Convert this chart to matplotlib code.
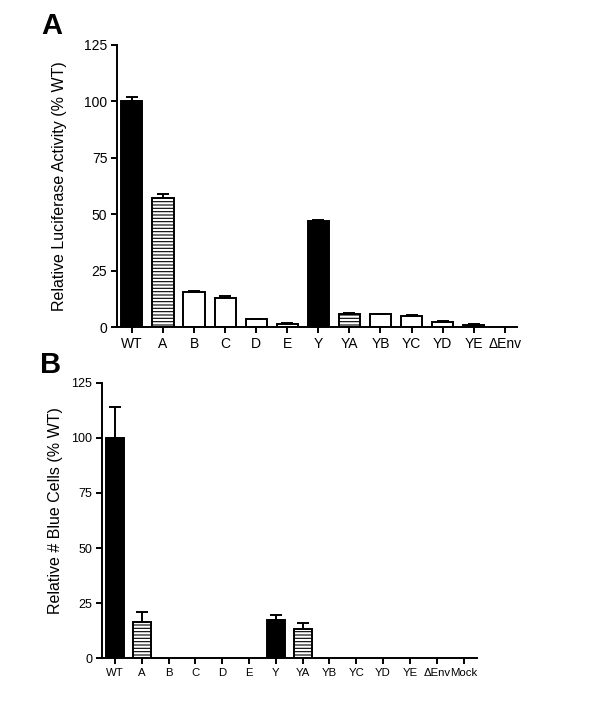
import numpy as np
import matplotlib
matplotlib.use('Agg')
import matplotlib.pyplot as plt

plt.rcParams['font.family'] = ['Liberation Sans', 'DejaVu Sans']
plt.rcParams['hatch.linewidth'] = 0.8

# panel A - luciferase
cats_a = ['WT', 'A', 'B', 'C', 'D', 'E', 'Y', 'YA', 'YB', 'YC', 'YD', 'YE', 'ΔEnv']
vals_a = [100, 57, 15.5, 13, 3.5, 1.5, 46.8, 5.9, 5.6, 5.0, 2.2, 1.0, 0]
errs_a = [2, 1.8, 0.5, 0.6, 0.2, 0.2, 0.8, 0.5, 0.2, 0.2, 0.3, 0.3, 0]
style_a = ['solid', 'hatch', 'open', 'open', 'open', 'open', 'solid', 'hatch',
           'open', 'open', 'open', 'open', 'open']

# panel B - blue cells
cats_b = ['WT', 'A', 'B', 'C', 'D', 'E', 'Y', 'YA', 'YB', 'YC', 'YD', 'YE', 'ΔEnv', 'Mock']
vals_b = [100, 16.5, 0, 0, 0, 0, 17.5, 13.5, 0, 0, 0, 0, 0, 0]
errs_b = [14, 4.5, 0, 0, 0, 0, 2, 2.5, 0, 0, 0, 0, 0, 0]
style_b = ['solid', 'hatch', 'open', 'open', 'open', 'open', 'solid', 'hatch',
           'open', 'open', 'open', 'open', 'open', 'open']


def draw(ax, cats, vals, errs, styles, xmax, xfont, yfont):
    x = np.arange(len(cats))
    for xi, v, s in zip(x, vals, styles):
        if v <= 0:
            continue
        fc = 'black' if s == 'solid' else 'white'
        ax.bar(xi, v, width=0.68, color=fc, edgecolor='black', linewidth=1.4,
               hatch='-----' if s == 'hatch' else None, zorder=2)
    e = np.array(errs)
    m = e > 0
    ax.errorbar(x[m], np.array(vals)[m], yerr=[np.zeros(m.sum()), e[m]],
                fmt='none', ecolor='black', elinewidth=1.4, capsize=4.3,
                capthick=1.4, zorder=3)
    ax.set_xlim(-0.48, xmax)
    ax.set_ylim(0, 125)
    ax.set_yticks([0, 25, 50, 75, 100, 125])
    ax.set_xticks(x)
    ax.set_xticklabels(cats, fontsize=xfont)
    for lab in ax.get_yticklabels():
        lab.set_fontsize(yfont)
    for sp in ['top', 'right']:
        ax.spines[sp].set_visible(False)
    for sp in ['left', 'bottom']:
        ax.spines[sp].set_linewidth(1.4)
    ax.tick_params(direction='out', length=4, width=1.4, pad=3)


fig = plt.figure(figsize=(6, 7.14), dpi=100)

ax1 = fig.add_axes([0.195, 0.542, 0.667, 0.395])
draw(ax1, cats_a, vals_a, errs_a, style_a, 12.4, 10, 10)
ax1.set_ylabel('Relative Luciferase Activity (% WT)', fontsize=11.5, labelpad=12)

ax2 = fig.add_axes([0.17, 0.078, 0.625, 0.386])
draw(ax2, cats_b, vals_b, errs_b, style_b, 13.5, 8.2, 9)
ax2.set_ylabel('Relative # Blue Cells (% WT)', fontsize=11.5, labelpad=10)
ax2.yaxis.set_label_coords(-0.105, 0.535)

fig.text(0.069, 0.952, 'A', fontsize=21, fontweight='bold')
fig.text(0.067, 0.478, 'B', fontsize=21, fontweight='bold')

fig.savefig('out.png', dpi=100)
